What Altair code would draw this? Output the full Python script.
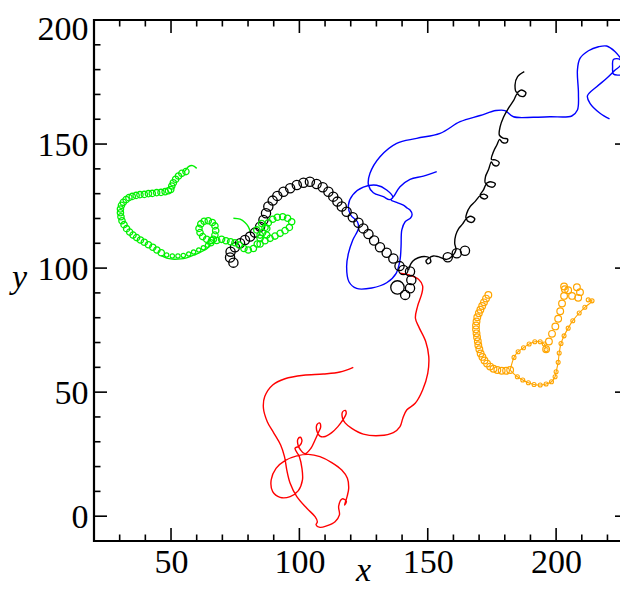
import altair as alt
import pandas as pd

# ---------------- axis ticks ----------------
x_major = [50, 100, 150, 200]
x_minor = [30, 40, 60, 70, 80, 90, 110, 120, 130, 140, 160, 170, 180, 190, 210, 220]
y_major = [0, 50, 100, 150, 200]
y_minor = [10, 20, 30, 40, 60, 70, 80, 90, 110, 120, 130, 140, 160, 170, 180, 190]

# ---------------- red trajectory ----------------
red_x = [121.0, 115.8, 109.3, 101.6, 94.4, 89.6, 86.5, 86.0, 87.5, 90.1, 92.7, 94.2, 95.1, 96.4, 99.0,
         102.9, 106.1, 107.0, 106.5, 108.0, 110.6, 113.9, 115.6, 115.3, 116.7, 118.3, 117.6, 118.6, 119.2,
         118.7, 116.5, 112.6, 108.0, 103.5, 99.0, 94.4, 90.9, 89.0, 89.6, 92.5, 96.4, 99.6, 101.2, 101.0,
         100.0, 98.3, 100.0, 101.0, 100.4, 99.4, 99.5, 100.4, 102.2, 104.5, 106.1, 107.3, 108.3, 107.8,
         106.8, 106.9, 108.0, 109.5, 112.6, 115.0, 116.8, 118.2, 117.9, 116.8, 116.8, 117.8, 120.4,
         124.9, 131.4, 136.6, 139.2, 140.3, 141.8, 145.1, 148.0, 150.0, 150.4, 149.2, 146.6, 145.2,
         146.0, 147.7, 148.0, 146.4, 143.1, 139.2]
red_y = [60.0, 58.1, 57.3, 56.8, 55.4, 52.9, 48.2, 43.5, 38.1, 33.4, 28.7, 24.0, 18.6, 13.3, 7.9,
         3.2, -0.2, -2.2, -3.5, -4.5, -3.9, -2.2, 0.5, 4.1, 7.0, 6.0, 4.5, 8.0, 11.2,
         15.3, 18.6, 21.6, 24.0, 24.9, 24.3, 22.4, 19.3, 14.6, 9.9, 7.6, 7.9, 10.3, 14.6, 19.3,
         24.0, 27.4, 28.3, 30.3, 31.8, 31.0, 28.6, 26.8, 25.2, 27.4, 30.7, 33.5, 36.0, 37.6,
         36.8, 34.0, 32.3, 32.0, 33.7, 36.1, 38.6, 41.2, 42.6, 42.0, 39.5, 37.6, 35.4,
         33.1, 32.5, 33.7, 36.1, 39.5, 42.8, 45.5, 50.9, 57.6, 64.3, 70.4, 76.1, 79.8,
         84.5, 89.8, 92.8, 95.5, 97.1, 97.9]

# ---------------- blue trajectory ----------------
blue_x = [153.5, 148.3, 143.1, 139.2, 136.9, 135.7, 137.9, 140.5, 142.1, 143.1, 143.9, 143.3, 141.2,
          139.9, 139.6, 139.2, 137.7, 134.0, 128.2, 122.3, 119.3, 118.4, 119.1, 120.8, 123.0, 122.6,
          120.0, 119.1, 120.8, 124.9, 130.1, 134.0, 136.4, 135.0, 132.7, 128.8, 126.9, 127.5, 131.4,
          137.9, 145.7, 154.8, 162.6, 170.4, 176.6, 180.1, 183.4, 191.1, 197.6, 206.1, 208.3, 208.7,
          208.3, 209.3, 212.6, 216.5, 219.7, 223.0, 225.6, 227.3, 226.9, 224.3, 222.3, 222.0, 222.3,
          224.9, 225.2, 223.0, 219.7, 215.8, 212.2, 213.2, 217.1, 220.8]
blue_y = [138.9, 137.1, 135.8, 132.8, 129.1, 127.5, 126.5, 125.4, 124.1, 123.4, 121.6, 120.2, 118.7,
          115.4, 108.6, 103.3, 97.9, 94.1, 92.0, 91.8, 94.5, 100.6, 105.9, 111.3, 116.0, 118.7,
          121.4, 125.4, 129.5, 132.6, 133.4, 131.5, 128.5, 127.6, 128.8, 130.4, 133.5, 138.2, 144.9,
          150.3, 152.3, 154.3, 159.0, 161.5, 163.5, 163.5, 161.0, 160.8, 161.0, 161.3, 163.7, 170.4,
          179.8, 184.5, 187.6, 189.2, 189.5, 187.2, 183.9, 181.2, 178.5, 177.8, 178.2, 181.2, 184.1,
          184.1, 181.9, 179.8, 176.5, 173.1, 169.4, 166.4, 162.4, 160.1]

# ---------------- black trajectory ----------------
black_path_x = [187.6, 185.0, 184.0, 184.7, 186.4, 188.2, 187.6, 185.8, 184.9,
                183.4, 181.4, 179.5, 178.2, 177.9, 179.3, 181.1, 180.8, 179.0, 178.0,
                176.9, 175.6, 174.8, 176.3, 177.8, 177.2, 175.5, 174.8,
                173.6, 172.5, 172.5, 174.3, 176.3, 175.6, 173.6, 172.8,
                171.7, 170.4, 171.9, 173.3, 172.3, 170.8, 170.4,
                168.4, 166.5, 165.2, 164.9, 166.6, 168.3, 167.5, 165.6, 165.0,
                163.6, 162.1, 160.9, 160.5, 161.0, 159.5, 157.4, 154.1, 152.2,
                150.9, 151.2, 150.0, 149.3, 150.4, 147.6, 145.0, 143.4, 142.5]
black_path_y = [179.2, 177.2, 173.8, 170.8, 171.8, 170.8, 169.3, 169.4, 170.3,
                167.5, 164.4, 160.8, 157.0, 153.6, 152.4, 152.0, 150.6, 150.7, 151.9,
                149.6, 146.9, 143.8, 143.6, 142.6, 141.3, 141.6, 142.8,
                139.5, 136.9, 134.2, 134.8, 134.0, 132.7, 133.0, 133.8,
                131.5, 129.5, 129.8, 128.8, 127.9, 128.4, 129.1,
                126.8, 124.8, 122.1, 120.1, 120.9, 119.9, 118.5, 118.9, 119.8,
                117.8, 116.0, 113.3, 110.0, 107.3, 104.8, 103.5, 104.6, 104.9,
                104.3, 102.6, 101.7, 102.9, 104.3, 104.6, 103.5, 101.7, 99.2]
black_loop_x = [157.8, 161.3, 164.5, 143.1, 143.6, 143.1, 141.2, 140.5,
                139.0, 136.6, 134.0, 131.4, 129.1, 126.9, 124.9, 123.0, 120.8, 118.4, 116.5, 114.8, 113.2,
                111.3, 109.1, 106.7, 104.1, 101.6, 99.0, 96.4, 93.8, 91.4, 89.6, 87.9, 87.0, 86.0, 84.7,
                82.7, 80.8, 78.8, 76.9, 74.9, 73.2, 73.0, 74.3]
black_loop_y = [104.4, 106.0, 107.0, 98.6, 95.2, 91.9, 89.2, 99.2,
                100.8, 103.9, 106.2, 108.4, 111.1, 113.7, 116.0, 118.3, 120.5, 122.7, 124.8, 126.8, 128.8,
                130.8, 132.6, 133.9, 134.8, 134.4, 133.5, 132.2, 130.8, 129.1, 127.2, 124.8, 122.1, 119.4,
                116.7, 114.3, 112.7, 111.3, 110.0, 108.4, 106.6, 104.3, 102.2]
black_big_x = [138.2]
black_big_y = [92.2]

# ---------------- green trajectory ----------------
green_loop_x = [55.8, 54.2, 52.9, 51.8, 50.9, 50.3, 49.9, 49.0, 47.7, 46.1, 44.4, 42.7, 41.2, 39.6, 37.9,
                36.4, 34.9, 33.6, 32.5, 31.4, 30.7, 30.3, 30.3, 30.5, 30.9, 31.7, 32.7, 33.9, 35.2, 36.6,
                38.1, 39.6, 41.2, 42.9, 44.5, 46.2,
                65.5, 66.5, 67.1, 67.4, 67.1, 66.1, 64.5, 62.9, 61.6, 60.9, 61.3, 62.3, 63.9, 65.8, 67.8,
                69.7, 71.4, 73.2, 74.9, 76.6, 78.4, 80.1, 82.1, 83.6, 84.7, 85.7, 86.6, 87.9, 89.6, 91.4,
                93.5, 95.4, 97.0, 96.1, 94.4, 92.5, 90.5, 88.6, 86.6, 84.7, 83.4, 85.3, 87.3, 84.7, 87.3]
green_loop_y = [138.9, 138.2, 137.1, 135.8, 134.4, 133.1, 131.7, 131.2, 130.8, 130.5, 130.4, 130.1, 130.0,
                129.7, 129.6, 129.3, 128.9, 128.4, 127.6, 126.5, 125.3, 123.8, 122.3, 120.7, 119.1, 117.5,
                115.9, 114.5, 113.3, 112.3, 111.3, 110.4, 109.4, 108.4, 107.3, 106.2,
                110.2, 111.6, 113.3, 115.1, 117.0, 118.4, 119.1, 118.9, 117.8, 116.0, 114.3, 112.7, 111.6,
                111.1, 111.1, 111.6, 111.0, 110.6, 110.2, 109.3, 107.9, 107.3, 107.9, 109.7, 112.0, 114.3,
                116.4, 118.3, 119.7, 120.5, 120.7, 120.1, 118.7, 116.4, 115.1, 114.0, 112.9, 112.0, 111.0,
                109.7, 115.4, 118.0, 116.0, 113.3, 113.3]
green_small_x = [48.3, 50.5, 52.7, 54.8, 56.9, 58.8, 60.8, 62.6, 64.2]
green_small_y = [105.3, 104.9, 104.9, 105.1, 105.7, 106.5, 107.3, 108.2, 109.2]
green_path_x = [60.0, 58.4, 56.8, 55.7, 55.0]
green_path_y = [140.2, 141.3, 140.9, 139.5, 138.6]
green_base_x = [46.2, 48.3, 50.5, 52.7, 54.8, 56.9, 58.8, 60.8, 62.6, 64.2, 65.5]
green_base_y = [105.0, 104.0, 103.6, 103.6, 103.8, 104.4, 105.2, 106.0, 107.0, 108.0, 109.5]
green_hook_x = [74.3, 76.9, 78.8, 80.1, 81.0]
green_hook_y = [120.1, 119.7, 118.4, 116.7, 114.3]

# ---------------- orange trajectory ----------------
orange_loop_x = [173.6, 172.7, 171.9, 171.2, 170.5, 169.9, 169.3, 169.0, 168.8, 168.8, 169.0, 169.2, 169.5,
                 169.7, 170.1, 170.6, 171.3, 172.1, 173.1, 174.3, 175.6, 177.1, 178.8, 180.5, 182.1,
                 196.1, 197.2, 198.4, 199.7, 200.8, 201.6, 202.3, 203.1, 203.4,
                 203.1, 208.1, 209.3, 208.6, 206.2, 204.7]
orange_loop_y = [89.2, 87.7, 86.2, 84.7, 83.2, 81.8, 80.2, 78.5, 76.9, 75.3, 73.7, 72.1, 70.5,
                 68.9, 67.3, 65.6, 64.2, 62.8, 61.5, 60.3, 59.4, 58.9, 58.6, 58.6, 58.9,
                 67.3, 70.4, 73.5, 76.5, 79.6, 82.6, 85.7, 88.8, 91.5,
                 92.6, 92.3, 90.3, 88.0, 88.8, 91.1]
orange_arc_x = [182.1, 183.6, 185.2, 187.3, 189.5, 191.7, 193.8, 195.4, 196.1]
orange_arc_y = [58.9, 64.0, 66.3, 67.9, 69.4, 70.3, 70.3, 69.4, 67.2]
orange_side_x = [182.1, 184.9, 187.0, 189.2, 191.4, 193.8, 196.1, 198.2, 199.6,
                 200.0, 200.8, 201.2, 201.9, 203.1, 204.7, 206.5, 209.0, 211.2, 214.0, 212.5]
orange_side_y = [58.9, 56.2, 54.9, 53.8, 53.1, 52.9, 53.3, 54.2, 56.2,
                 58.2, 62.0, 65.8, 69.6, 72.7, 75.8, 78.8, 81.9, 84.2, 86.8, 87.2]

COLORS = {"red": "#ff0000", "blue": "#0000ff", "black": "#000000", "green": "#00f000", "orange": "#ffa500"}


def line_df(name, color, xs, ys):
    return pd.DataFrame({"x": xs, "y": ys, "i": list(range(len(xs))), "s": name, "c": color})


def pts_df(color, xs, ys):
    return pd.DataFrame({"x": xs, "y": ys, "c": color})


lines = pd.concat([
    line_df("red", "red", red_x, red_y),
    line_df("blue", "blue", blue_x, blue_y),
    line_df("black", "black", black_path_x, black_path_y),
    line_df("g1", "green", green_path_x, green_path_y),
    line_df("g2", "green", green_base_x, green_base_y),
    line_df("g3", "green", green_hook_x, green_hook_y),
])
thin_lines = pd.concat([
    line_df("o1", "orange", orange_arc_x, orange_arc_y),
    line_df("o2", "orange", orange_side_x, orange_side_y),
])

W, H = 534, 521
FONT = "Liberation Serif"
FS = 34
xs = alt.Scale(domain=[20, 228], nice=False, zero=False)
ys = alt.Scale(domain=[-10, 200], nice=False, zero=False)
cs = alt.Scale(domain=list(COLORS.keys()), range=list(COLORS.values()))

XAX = alt.Axis(values=x_major, ticks=False, domain=False, grid=False,
               labelFont=FONT, labelFontSize=FS, labelColor="black", labelPadding=4,
               title="x", titleFont=FONT, titleFontSize=FS, titleFontStyle="italic",
               titleFontWeight="normal", titleColor="black", titleX=269, titleY=46.5,
               titleBaseline="bottom", titleAlign="center")
YAX = alt.Axis(values=y_major, ticks=False, domain=False, grid=False,
               labelFont=FONT, labelFontSize=FS, labelColor="black", labelPadding=6,
               labelOffset={"condition": {"test": "datum.value === 200", "value": 9}, "value": 1},
               title="y", titleFont=FONT, titleFontSize=FS, titleFontStyle="italic",
               titleFontWeight="normal", titleColor="black", titleAngle=0, titleX=-75, titleY=267,
               titleBaseline="alphabetic", titleAlign="center")

X0 = alt.X("x:Q", scale=xs, axis=XAX)
Y0 = alt.Y("y:Q", scale=ys, axis=YAX)
C = alt.Color("c:N", scale=cs, legend=None)

line_layer = alt.Chart(lines).mark_line(interpolate="catmull-rom", strokeWidth=1.4).encode(
    x=X0, y=Y0, color=C, detail="s:N", order="i:Q")
thin_layer = alt.Chart(thin_lines).mark_line(interpolate="catmull-rom", strokeWidth=1.1).encode(
    x=X0, y=Y0, color=C, detail="s:N", order="i:Q")


def circles(df, size, sw):
    return alt.Chart(df).mark_point(shape="circle", filled=False, size=size, strokeWidth=sw, opacity=1).encode(
        x=X0, y=Y0, color=C)


layers = [
    line_layer,
    thin_layer,
    circles(pts_df("black", black_loop_x, black_loop_y), 85, 1.3),
    circles(pts_df("black", black_big_x, black_big_y), 180, 1.3),
    circles(pts_df("green", green_loop_x, green_loop_y), 40, 1.3),
    circles(pts_df("green", green_small_x, green_small_y), 18, 1.2),
    circles(pts_df("orange", orange_loop_x, orange_loop_y), 45, 1.2),
    circles(pts_df("orange", orange_arc_x[1:], orange_arc_y[1:]), 16, 1.1),
    circles(pts_df("orange", orange_side_x[1:], orange_side_y[1:]), 16, 1.1),
]


# inward ticks on all four sides
def vticks(vals, ln, bottom):
    df = pd.DataFrame({"x": vals})
    if bottom:
        enc = dict(y=alt.value(H), y2=alt.value(H - ln))
    else:
        enc = dict(y=alt.value(0), y2=alt.value(ln))
    return alt.Chart(df).mark_rule(color="black", strokeWidth=1.6).encode(x=X0, **enc)


def hticks(vals, ln, left):
    df = pd.DataFrame({"y": vals})
    if left:
        enc = dict(x=alt.value(0), x2=alt.value(ln))
    else:
        enc = dict(x=alt.value(W), x2=alt.value(W - ln))
    return alt.Chart(df).mark_rule(color="black", strokeWidth=1.6).encode(y=Y0, **enc)


for side in (True, False):
    layers.append(vticks(x_major, 13, side))
    layers.append(vticks(x_minor, 6.5, side))
    layers.append(hticks(y_major, 13, side))
    layers.append(hticks(y_minor, 6.5, side))

chart = alt.layer(*layers).properties(
    width=W, height=H,
    autosize=alt.AutoSizeParams(type="none"),
    padding={"left": 86, "top": 12, "right": -8, "bottom": 47},
).configure_view(stroke="black", strokeWidth=2.2)

chart.save("out.html", embed_options={"renderer": "svg", "actions": False})
